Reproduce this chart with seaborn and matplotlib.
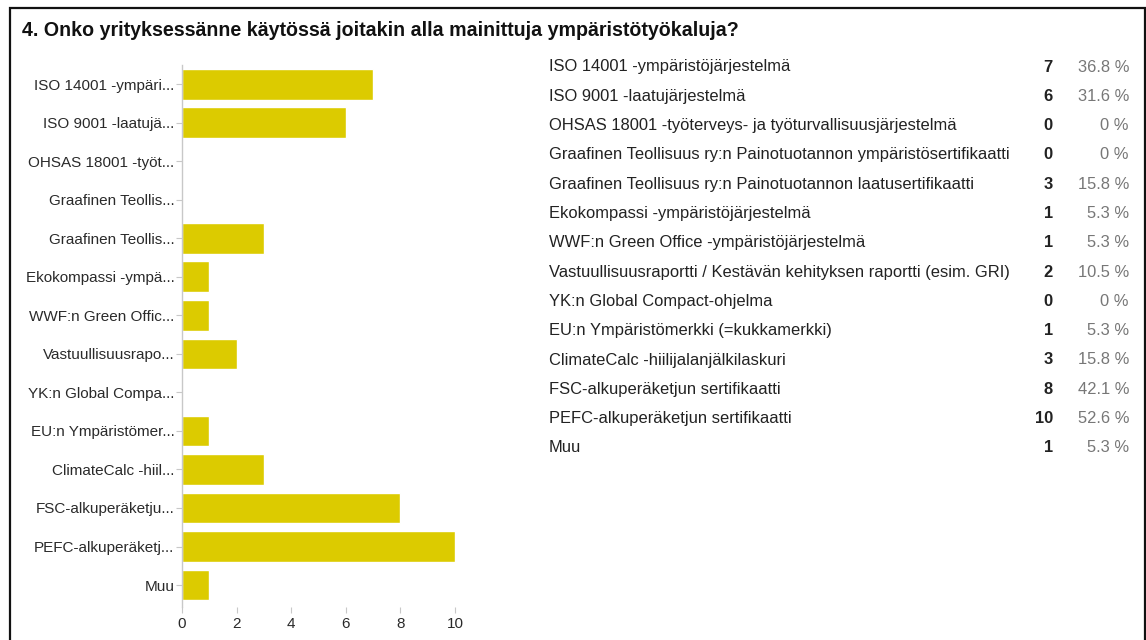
import matplotlib.pyplot as plt
import seaborn as sns
import pandas as pd
from matplotlib.patches import Rectangle

# Survey answers
options = [
    "ISO 14001 -ympäristöjärjestelmä",
    "ISO 9001 -laatujärjestelmä",
    "OHSAS 18001 -työterveys- ja työturvallisuusjärjestelmä",
    "Graafinen Teollisuus ry:n Painotuotannon ympäristösertifikaatti",
    "Graafinen Teollisuus ry:n Painotuotannon laatusertifikaatti",
    "Ekokompassi -ympäristöjärjestelmä",
    "WWF:n Green Office -ympäristöjärjestelmä",
    "Vastuullisuusraportti / Kestävän kehityksen raportti (esim. GRI)",
    "YK:n Global Compact-ohjelma",
    "EU:n Ympäristömerkki (=kukkamerkki)",
    "ClimateCalc -hiilijalanjälkilaskuri",
    "FSC-alkuperäketjun sertifikaatti",
    "PEFC-alkuperäketjun sertifikaatti",
    "Muu",
]
short_labels = [
    "ISO 14001 -ympäri...",
    "ISO 9001 -laatujä...",
    "OHSAS 18001 -työt...",
    "Graafinen Teollis...",
    "Graafinen Teollis...",
    "Ekokompassi -ympä...",
    "WWF:n Green Offic...",
    "Vastuullisuusrapo...",
    "YK:n Global Compa...",
    "EU:n Ympäristömer...",
    "ClimateCalc -hiil...",
    "FSC-alkuperäketju...",
    "PEFC-alkuperäketj...",
    "Muu",
]
counts = [7, 6, 0, 0, 3, 1, 1, 2, 0, 1, 3, 8, 10, 1]
percents = [36.8, 31.6, 0, 0, 15.8, 5.3, 5.3, 10.5, 0, 5.3, 15.8, 42.1, 52.6, 5.3]
x_ticks = [0, 2, 4, 6, 8, 10]

title = "4. Onko yrityksessänne käytössä joitakin alla mainittuja ympäristötyökaluja?"

sns.set_theme(style="white")
plt.rcParams["font.family"] = ["Liberation Sans", "DejaVu Sans"]

W, H = 1146, 640
fig = plt.figure(figsize=(W / 100, H / 100), dpi=100)
fig.patch.set_facecolor("white")

# bar chart on the left
ax = fig.add_axes([182 / W, 1 - 607 / H, (455 - 182) / W, (607 - 65) / H])
df = pd.DataFrame({"option": options, "count": counts})
sns.barplot(data=df, x="count", y="option", orient="h", color="#dccb00",
            saturation=1, width=0.8, ax=ax)
ax.set_xlim(0, 10)
ax.set_ylim(13.57, -0.5)
ax.set_xticks(x_ticks)
ax.set_yticks(range(len(options)))
ax.set_yticklabels(short_labels)
ax.set_xlabel("")
ax.set_ylabel("")
for s in ["top", "right", "bottom"]:
    ax.spines[s].set_visible(False)
ax.spines["left"].set_color("#c8c8c8")
ax.spines["left"].set_linewidth(1)
ax.tick_params(axis="both", which="both", length=4, width=0.8, color="#c8c8c8",
               labelsize=11, labelcolor="#2a2a2a", pad=1.5)
ax.tick_params(axis="x", bottom=True, pad=3)
ax.tick_params(axis="y", left=True)

# title
fig.text(22 / W, 1 - 30 / H, title, fontsize=14.1, fontweight="bold",
         color="#111111", va="center", ha="left")

# table on the right
y0, step = 67, 29.3
for i, (name, c, p) in enumerate(zip(options, counts, percents)):
    y = 1 - (y0 + i * step) / H
    fig.text(549 / W, y, name, fontsize=11.9, color="#222222", va="center", ha="left")
    fig.text(1053 / W, y, str(c), fontsize=11.9, fontweight="bold", color="#222222",
             va="center", ha="right")
    ptxt = "0 %" if p == 0 else f"{p:.1f} %"
    fig.text(1129 / W, y, ptxt, fontsize=11.9, color="#777777", va="center", ha="right")

# frame around the panel
fig.patches.append(Rectangle((10 / W, -0.05), (1145 - 10) / W, 1.05 - 8 / H,
                             transform=fig.transFigure, fill=False,
                             edgecolor="#111111", linewidth=1.6))

fig.savefig("out.png", dpi=100)
